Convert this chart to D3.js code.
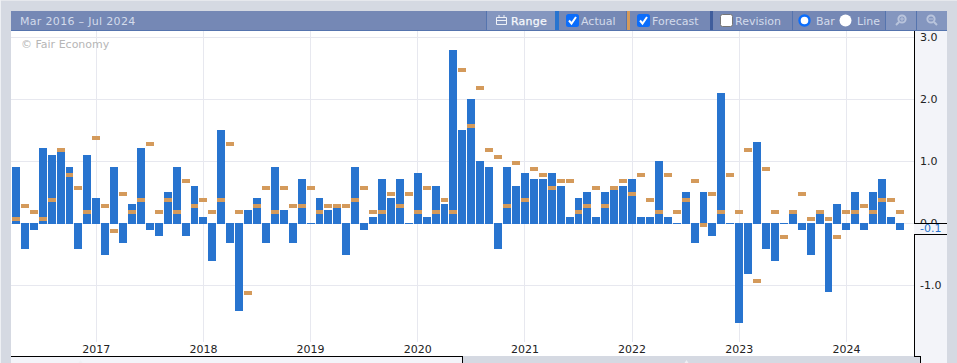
<!DOCTYPE html>
<html><head><meta charset="utf-8">
<script src="https://cdn.jsdelivr.net/npm/d3@7"></script>
<style>html,body{margin:0;padding:0;background:#d5d9e2;overflow:hidden}svg{display:block}text{font-family:"DejaVu Sans",sans-serif}</style>
</head><body><svg id="c" width="957" height="363"></svg>
<script>
const rangeLabel = "Mar 2016 – Jul 2024";
const watermark = "© Fair Economy";
const firstMonthYear = 2016, firstMonthIndex = 3;
const actual = [0.9,-0.4,-0.1,1.2,1.1,1.2,0.9,-0.4,1.1,0.4,-0.5,0.9,-0.3,0.3,1.2,-0.1,-0.2,0.5,0.9,-0.2,
  0.6,0.1,-0.6,1.5,-0.3,-1.4,0.2,0.4,-0.3,0.9,0.2,-0.3,0.7,0,0.4,0.2,0.3,-0.5,0.9,-0.1,
  0.1,0.7,0.4,0.7,0,0.8,0.1,0.6,0.3,2.79,1.5,2.0,1.0,0.9,-0.4,0.9,0.6,0.8,0.7,0.7,
  0.8,0.6,0.1,0.4,0.5,0.1,0.5,0.55,0.6,0.7,0.1,0.1,1.0,0.1,0,0.5,-0.3,0.5,-0.2,2.1,
  0,-1.6,-0.8,1.3,-0.4,-0.6,0,0.2,-0.1,-0.5,0.2,-1.1,0.3,-0.1,0.5,-0.1,0.5,0.7,0.1,-0.1];
const forecast = [0.1,0.3,0.2,0.1,0.4,1.2,0.8,0.6,0.2,1.4,0.3,-0.1,0.5,0.2,0.4,1.3,0.2,0.4,0.2,0.7,
  0.3,0.4,0.2,0.4,1.3,0.2,-1.1,0.3,0.6,0.2,0.6,0.3,0.3,0.6,0.2,0.3,0.3,0.3,0.4,0.6,
  0.2,0.2,0.5,0.3,0.5,0.2,0.6,0.2,0.4,0.2,2.5,1.6,2.2,1.2,1.1,0.3,1.0,0.4,0.9,0.8,
  0.6,0.7,0.7,0.2,0.3,0.6,0.3,0.6,0.7,0.5,0.8,0.4,0.2,0.8,0.2,0.4,0.7,0,0.5,0.2,
  0.8,0.2,1.2,-0.9,0.9,0.2,-0.2,0.2,0.5,0.1,0.2,0.1,-0.2,0.2,0.2,0.3,0.2,0.4,0.4,0.2];
const yTicks = [3,2,1,0,-1];
const latestLabel = "-0.1";
const yearLabels = [2017,2018,2019,2020,2021,2022,2023,2024];

const C = {bg:"#d5d9e2", head:"#7588b5", btn:"#8496bf", bar:"#2874cf", fc:"#d49a5b", grid:"#e7e8ef", side:"#f3f4f9",
           headText:"#d3dbeb", sep:"#5574ae"};
const svg = d3.select("#c");
const rect = (x,y,w,h,f,g=svg)=>g.append("rect").attr("x",x).attr("y",y).attr("width",w).attr("height",h).attr("fill",f);
const L = 11, R = 914, T = 31, B = 356;

const x = d3.scaleLinear().domain([-0.552,100.57]).range([L,R]);
const y = d3.scaleLinear().domain([3.1018,-2.1403]).range([T,B]);
const monthIdx = yr => (yr-firstMonthYear)*12 - firstMonthIndex;

// frame
rect(0,0,957,1,"#e6e8ed"); rect(0,0,1,363,"#eef0f4");
rect(L,T,R-L,B-T,"#fff");
rect(R,T,947-R,363-T,C.side);
rect(L,B,462-L,7,C.side);
rect(462,B,920-462,7,C.bg);

// grid
const gridY = svg.append("g");
yTicks.forEach(t=>rect(L,Math.floor(y(t)),R-L,1,C.grid,gridY));
yearLabels.forEach(yr=>rect(Math.floor(x(monthIdx(yr))),T,1,342-T,C.grid,gridY));

// watermark
svg.append("text").attr("x",21).attr("y",48).attr("font-size",11).attr("fill","#b6b6b6").text(watermark);

// bars
const left = i=>Math.round(x(i)-4);
const barW = i=>left(i+1)-left(i)-1;
svg.append("g").selectAll("rect").data(actual).join("rect")
  .attr("x",(d,i)=>left(i)).attr("width",(d,i)=>barW(i))
  .attr("y",d=>d>=0?Math.floor(y(d)):223)
  .attr("height",d=>d>=0?224-Math.floor(y(d)):Math.round(y(d)+0.7)-223)
  .attr("fill",C.bar);
svg.append("g").selectAll("rect").data(forecast).join("rect")
  .attr("x",(d,i)=>left(i)).attr("width",(d,i)=>barW(i))
  .attr("y",d=>Math.floor(y(d))).attr("height",4).attr("fill",C.fc);

// axes
const ya = d3.axisRight(y).tickValues(yTicks).tickSize(0).tickPadding(6).tickFormat(d=>d3.format(".1f")(d).replace("−","-"));
const yg = svg.append("g").attr("transform",`translate(${R},0)`).call(ya);
yg.select(".domain").remove();
yg.selectAll("text").attr("font-size",11).attr("fill","#222").attr("font-family",'"DejaVu Sans"').attr("dy","0.27em");
const xa = d3.axisBottom(x).tickValues(yearLabels.map(monthIdx)).tickSize(0).tickPadding(0).tickFormat((d,i)=>yearLabels[i]);
const xg = svg.append("g").attr("transform","translate(-0.5,345)").call(xa);
xg.select(".domain").remove();
xg.selectAll("text").attr("font-size",11).attr("fill","#222").attr("font-family",'"DejaVu Sans"').attr("dy","0.7em").attr("y",0);

// latest value box
rect(R,223,947-R,11,C.side);
rect(R,223,947-R,1,"#000"); rect(R,234,947-R,1,"#000");
svg.append("text").attr("x",920).attr("y",232).attr("font-size",11).attr("fill",C.bar).text(latestLabel);

// axis frame lines
rect(R,T,1,192,"#000"); rect(R,234,1,B-234,"#000");
rect(L,B,462-L,1,"#000"); rect(462,B,1,7,"#000");
rect(R,B,6,1,"#000"); rect(920,B,1,7,"#000");
svg.append("path").attr("d","M78.5 363L80.5 360L82.5 363Z").attr("fill","#eef0f4");
svg.append("path").attr("d","M684.5 363L686.5 360L688.5 363Z").attr("fill","#eef0f4");

// header
rect(L,11,947-L,19,C.head); rect(L,30,947-L,1,C.sep);
const ht=(tx,str,o={})=>svg.append("text").attr("x",tx).attr("y",25).attr("font-size",11).attr("fill",o.fill||C.headText)
   .attr("letter-spacing",o.ls||0).attr("font-weight",o.w||"normal").text(str);
ht(20,rangeLabel,{ls:0.32});
rect(486,11,1,19,C.sep); rect(487,11,68,19,C.btn);
rect(555,11,4,19,C.bar);
rect(626,11,1,19,C.sep); rect(627,11,3,19,C.fc);
rect(710,11,3,19,"#3f5d9c");
rect(792,11,1,19,C.sep); rect(886,11,30,19,C.btn); rect(885,11,1,19,C.sep); rect(916,11,31,19,C.btn); rect(916,11,1,19,C.sep);

// calendar icon
svg.append("path").attr("d","M496.5 17.5h10v7h-10zM496.5 20.5h10M499 15v3M504 15v3").attr("fill","none").attr("stroke","#eef1f7").attr("stroke-width",1);
ht(511,"Range",{fill:"#f6f8fc",ls:0.2}).attr("stroke","#f6f8fc").attr("stroke-width",0.25);
const check=(cx)=>{
  svg.append("rect").attr("x",cx).attr("y",14).attr("width",13).attr("height",13).attr("rx",2.5).attr("fill","#0b6dfb");
  svg.append("path").attr("d",`M${cx+3} ${20.5}l2.5 3 4.5-6.5`).attr("fill","none").attr("stroke","#fff").attr("stroke-width",2);
};
check(566); ht(581,"Actual");
check(637); ht(652,"Forecast");
svg.append("rect").attr("x",720.5).attr("y",14.5).attr("width",12).attr("height",12).attr("rx",2).attr("fill","#fff").attr("stroke","#767676");
ht(735,"Revision");
svg.append("circle").attr("cx",804.5).attr("cy",20.5).attr("r",5).attr("fill","#fff").attr("stroke","#0b6dfb").attr("stroke-width",2.4);
ht(816,"Bar");
svg.append("circle").attr("cx",845.5).attr("cy",20.5).attr("r",6).attr("fill","#fff");
ht(857,"Line");
const mag=(cx,plus)=>{
  const g=svg.append("g").attr("fill","none").attr("stroke","#b9c4dc").attr("stroke-width",2);
  g.append("circle").attr("cx",cx+1).attr("cy",19).attr("r",3.6);
  g.append("path").attr("d",`M${plus?cx-2:cx+4} 22L${plus?cx-5:cx+7} 25`);
  g.append("path").attr("d",plus?`M${cx-1} 19h4M${cx+1} 17v4`:`M${cx-1} 19h4`).attr("stroke-width",1);
};
mag(901,true); mag(930,false);
</script></body></html>
